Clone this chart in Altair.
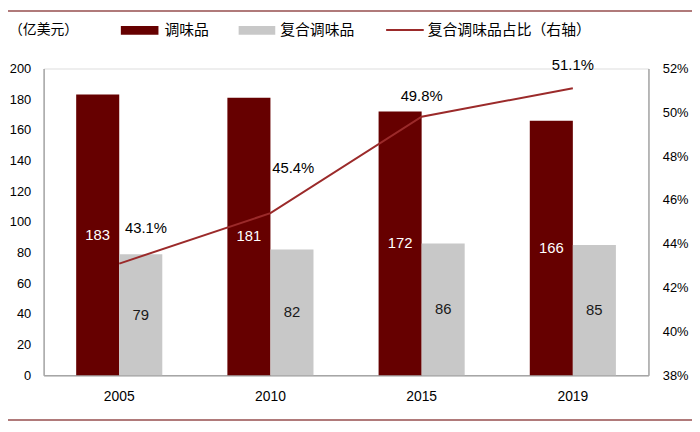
import altair as alt
import pandas as pd

# ---- data ----
years = ["2005", "2010", "2015", "2019"]
series = ["调味品", "复合调味品"]
seasoning = [183, 181, 172, 166]
compound = [79, 82, 86, 85]
share = [0.431, 0.454, 0.498, 0.511]
share_labels = ["43.1%", "45.4%", "49.8%", "51.1%"]
left_ticks = [0, 20, 40, 60, 80, 100, 120, 140, 160, 180, 200]
right_ticks = [0.38, 0.40, 0.42, 0.44, 0.46, 0.48, 0.50, 0.52]
unit_label = "（亿美元）"
line_label = "复合调味品占比（右轴）"

# ---- styles ----
DARK = "#660000"
GRAY = "#c8c8c8"
LINE = "#9b2a2a"
AXIS = "#a6a6a6"
NUMFONT = "Liberation Sans"
CJK = "Noto Sans CJK SC"
W, H = 611, 310

bar_df = pd.DataFrame({
    "year": years * 2,
    "series": [series[0]] * 4 + [series[1]] * 4,
    "value": seasoning + compound,
})
bar_df["mid"] = bar_df["value"] / 2
line_df = pd.DataFrame({"year": years, "share": share, "label": share_labels})
one = pd.DataFrame({"k": [0]})

xenc = alt.X("year:N", sort=years, title=None,
             scale=alt.Scale(paddingInner=0, paddingOuter=0),
             axis=alt.Axis(labelAngle=0, ticks=False, domainColor=AXIS, domainWidth=1.5,
                           labelPadding=14, labelFont=NUMFONT, labelFontSize=14,
                           labelColor="#000000"))
xoff = alt.XOffset("series:N", sort=series,
                   scale=alt.Scale(paddingInner=0, paddingOuter=0.756))
left_axis = alt.Axis(values=left_ticks, grid=False, ticks=False, domainColor=AXIS,
                     domainWidth=1.5, labelPadding=13, labelFont=NUMFONT,
                     labelFontSize=13, labelColor="#000000")

bars = alt.Chart(bar_df).mark_bar().encode(
    x=xenc, xOffset=xoff,
    y=alt.Y("value:Q", title=None, scale=alt.Scale(domain=[0, 200]), axis=left_axis),
    color=alt.Color("series:N", scale=alt.Scale(domain=series, range=[DARK, GRAY]), legend=None),
)

mid_y = alt.Y("mid:Q", title=None, scale=alt.Scale(domain=[0, 200]), axis=left_axis)
txt_dark = alt.Chart(bar_df).transform_filter(alt.datum.series == series[0]).mark_text(
    font=NUMFONT, fontSize=15, color="white", baseline="middle").encode(
    x=alt.X("year:N", sort=years), xOffset=xoff, y=mid_y, text="value:Q")
txt_gray = alt.Chart(bar_df).transform_filter(alt.datum.series == series[1]).mark_text(
    font=NUMFONT, fontSize=15, color="#1a1a1a", baseline="middle").encode(
    x=alt.X("year:N", sort=years), xOffset=xoff, y=mid_y, text="value:Q")

# ---- manual legend (top) ----
unit_txt = alt.Chart(pd.DataFrame({"t": [unit_label]})).mark_text(
    font=CJK, fontSize=14, align="left", baseline="middle", color="#000000").encode(
    text="t:N", x=alt.value(-35), y=alt.value(-39))
leg_rect1 = alt.Chart(one).mark_rect(color=DARK).encode(
    x=alt.value(78), x2=alt.value(116), y=alt.value(-43), y2=alt.value(-34))
leg_txt1 = alt.Chart(pd.DataFrame({"t": [series[0]]})).mark_text(
    font=CJK, fontSize=15, align="left", baseline="middle", color="#000000").encode(
    text="t:N", x=alt.value(122), y=alt.value(-39))
leg_rect2 = alt.Chart(one).mark_rect(color=GRAY).encode(
    x=alt.value(197), x2=alt.value(234), y=alt.value(-43), y2=alt.value(-34))
leg_txt2 = alt.Chart(pd.DataFrame({"t": [series[1]]})).mark_text(
    font=CJK, fontSize=15, align="left", baseline="middle", color="#000000").encode(
    text="t:N", x=alt.value(239), y=alt.value(-39))
leg_line = alt.Chart(one).mark_rule(color=LINE, strokeWidth=2).encode(
    x=alt.value(346), x2=alt.value(384), y=alt.value(-39))
leg_txt3 = alt.Chart(pd.DataFrame({"t": [line_label]})).mark_text(
    font=CJK, fontSize=15, align="left", baseline="middle", color="#000000").encode(
    text="t:N", x=alt.value(388), y=alt.value(-39))

top_border = alt.Chart(one).mark_rule(color="#b07a7a", strokeWidth=2).encode(
    x=alt.value(-36), x2=alt.value(W + 44), y=alt.value(-58))
bot_border = alt.Chart(one).mark_rule(color="#b07a7a", strokeWidth=2).encode(
    x=alt.value(-36), x2=alt.value(W + 44), y=alt.value(H + 45))

left = alt.layer(bars, txt_dark, txt_gray, unit_txt, leg_rect1, leg_txt1, leg_rect2,
                 leg_txt2, leg_line, leg_txt3, top_border, bot_border)

# ---- line on right axis ----
right_axis = alt.Axis(orient="right", values=right_ticks, format=".0%", grid=False,
                      ticks=False, domainColor=AXIS, domainWidth=1.5, labelPadding=14,
                      labelFont=NUMFONT, labelFontSize=13, labelColor="#000000")
yright = alt.Y("share:Q", title=None, scale=alt.Scale(domain=[0.38, 0.52]), axis=right_axis)
line = alt.Chart(line_df).mark_line(color=LINE, strokeWidth=2).encode(
    x=alt.X("year:N", sort=years), y=yright)

offsets = [(27, -36), (23, -46), (0, -21), (0, -23)]
line_txts = []
for yr, (dx, dy) in zip(years, offsets):
    line_txts.append(
        alt.Chart(line_df).transform_filter(alt.datum.year == yr).mark_text(
            font=NUMFONT, fontSize=15, color="#000000", dx=dx, dy=dy, baseline="middle").encode(
            x=alt.X("year:N", sort=years), y=yright, text="label:N"))

right = alt.layer(line, *line_txts)

chart = alt.layer(left, right).resolve_scale(y="independent").properties(
    width=W, height=H,
    autosize=alt.AutoSizeParams(type="none"),
    padding={"left": 36, "top": 59, "right": 44, "bottom": 47},
).configure_view(stroke=None).configure(background="white")

chart.save("out.html", embed_options={"renderer": "svg", "actions": False})
